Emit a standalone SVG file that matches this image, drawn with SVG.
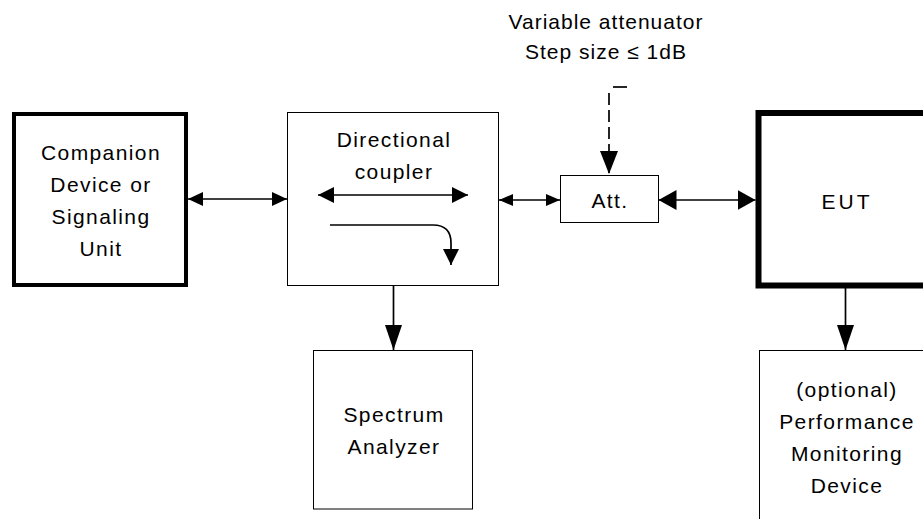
<svg xmlns="http://www.w3.org/2000/svg" width="923" height="519" viewBox="0 0 923 519">
<style>
text{font-family:"Liberation Sans",Arial,sans-serif;font-size:21px;fill:#000;text-anchor:middle;letter-spacing:1.4px}
.box{fill:#fff;stroke:#000;stroke-width:1}
.c{fill:none;stroke:#000;stroke-width:1.7}
</style>
<defs>
<marker id="m1" markerUnits="userSpaceOnUse" markerWidth="16" markerHeight="15" refX="15" refY="7" orient="auto-start-reverse"><path d="M0,0 L15,7 L0,14 z"/></marker>
<marker id="m2" markerUnits="userSpaceOnUse" markerWidth="16" markerHeight="13" refX="14" refY="6" orient="auto-start-reverse"><path d="M0,0 L14,6 L0,12 z"/></marker>
<marker id="m3" markerUnits="userSpaceOnUse" markerWidth="20" markerHeight="21" refX="18" refY="10" orient="auto-start-reverse"><path d="M0,0 L18,10 L0,20 z"/></marker>
<marker id="m4" markerUnits="userSpaceOnUse" markerWidth="26" markerHeight="18" refX="25" refY="8.5" orient="auto"><path d="M0,0 L25,8.5 L0,17 z"/></marker>
<marker id="m5" markerUnits="userSpaceOnUse" markerWidth="24" markerHeight="19" refX="23" refY="9" orient="auto"><path d="M0,0 L23,9 L0,18 z"/></marker>
<marker id="m6" markerUnits="userSpaceOnUse" markerWidth="18" markerHeight="18" refX="16" refY="8" orient="auto-start-reverse"><path d="M0,0 L16,8 L0,16 z"/></marker>
</defs>
<g id="label-attenuator">
<text x="606" y="29" style="letter-spacing:1px">Variable attenuator</text>
<text x="606" y="59" style="letter-spacing:1px">Step size ≤ 1dB</text>
</g>
<g id="companion">
<rect x="14" y="114" width="172" height="171" fill="#fff" stroke="#000" stroke-width="4"/>
<text x="101" y="160">Companion</text>
<text x="101" y="192">Device or</text>
<text x="101" y="224">Signaling</text>
<text x="101" y="256">Unit</text>
</g>
<g id="coupler">
<rect class="box" x="287.5" y="112.5" width="211" height="173"/>
<text x="394" y="147">Directional</text>
<text x="394" y="179">coupler</text>
<line class="c" x1="318" y1="195" x2="468" y2="195" marker-start="url(#m6)" marker-end="url(#m6)"/>
<path class="c" d="M330,225 H433 Q451,225 451,243 V265" marker-end="url(#m6)"/>
</g>
<g id="spectrum">
<rect class="box" x="313.5" y="350.5" width="159" height="158.5"/>
<text x="394" y="422">Spectrum</text>
<text x="394" y="454">Analyzer</text>
</g>
<g id="att">
<rect class="box" x="560.5" y="175.5" width="98" height="47"/>
<text x="610" y="208">Att.</text>
</g>
<g id="eut">
<rect x="758.5" y="113" width="200" height="172.5" fill="#fff" stroke="#000" stroke-width="6"/>
<text x="847" y="209" style="letter-spacing:3px">EUT</text>
</g>
<g id="perf">
<rect class="box" x="759.5" y="350.5" width="200" height="200"/>
<text x="847" y="397">(optional)</text>
<text x="847" y="429">Performance</text>
<text x="847" y="461">Monitoring</text>
<text x="847" y="493">Device</text>
</g>
<g id="connectors">
<line class="c" x1="188" y1="199" x2="287" y2="199" marker-start="url(#m1)" marker-end="url(#m1)"/>
<line class="c" x1="499" y1="200" x2="560" y2="200" marker-start="url(#m2)" marker-end="url(#m2)"/>
<line class="c" x1="658.5" y1="200" x2="755.5" y2="200" marker-start="url(#m3)" marker-end="url(#m3)"/>
<line class="c" x1="393.5" y1="286" x2="393.5" y2="350" marker-end="url(#m4)"/>
<line class="c" x1="845.5" y1="288" x2="845.5" y2="350" marker-end="url(#m4)"/>
<line class="c" x1="609" y1="93" x2="609" y2="174" stroke-dasharray="12,5" marker-end="url(#m5)"/>
<line class="c" x1="613" y1="87" x2="627" y2="87"/>
</g>
</svg>
